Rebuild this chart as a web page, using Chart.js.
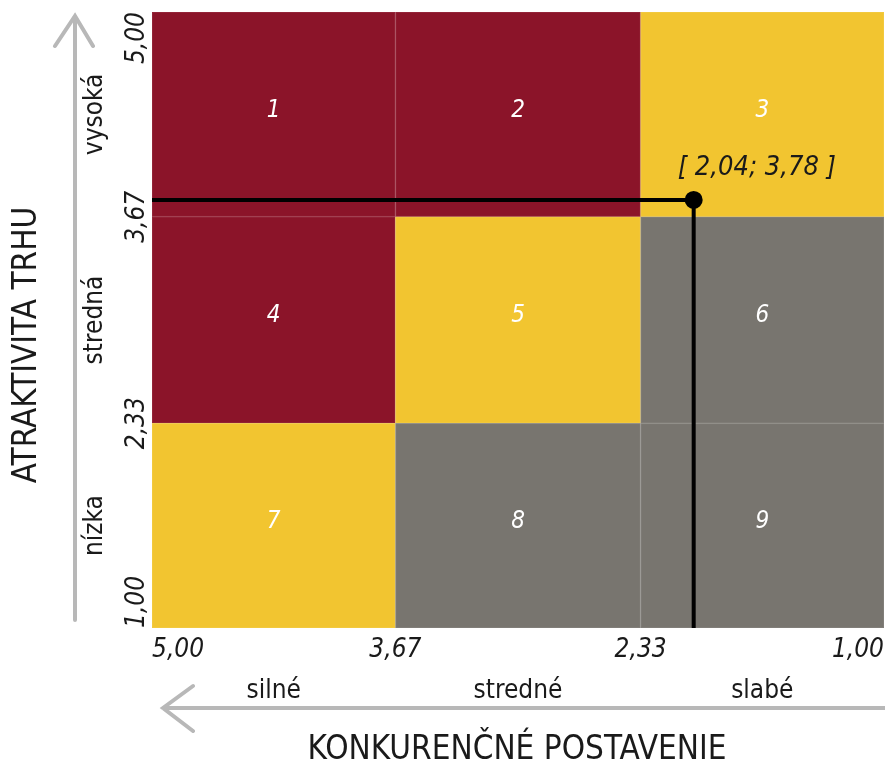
<!DOCTYPE html>
<html>
<head>
<meta charset="utf-8">
<script src="https://cdn.jsdelivr.net/npm/chart.js@4"></script>
<style>
  body { margin: 0; background: #fff; }
</style>
</head>
<body>
<canvas id="matrix" width="885" height="765"></canvas>
<script>
// grid boundaries - x runs from 5 (left) to 1 (right), y from 1 (bottom) to 5 (top)
const xEdges = [5, 3.67, 2.33, 1];
const yEdges = [5, 3.67, 2.33, 1];
const xTicks = [5, 3.67, 2.33, 1];
const yTicks = [5, 3.67, 2.33, 1];
const xZones = ["silné", "stredné", "slabé"];
const yZones = ["vysoká", "stredná", "nízka"];
const cellNumbers = ["1", "2", "3", "4", "5", "6", "7", "8", "9"];
const cellZone = [0, 0, 1, 0, 1, 2, 1, 2, 2];
// position of the company + guide lines to the axes
const guideX = [5, 2.04, 2.04];
const guideY = [3.78, 3.78, 1];
const positionValue = [2.04, 3.78];

const zoneColors = ["#8b1429", "#f2c530", "#78756f"];
const FONT = "'DejaVu Sans Condensed', 'Liberation Sans Narrow', sans-serif";
const GREY = "#b8b8b8";

function fmt(v) {
  return v.toFixed(2).replace(".", ",");
}

const cellsPlugin = {
  id: "cells",
  beforeDatasetsDraw(chart) {
    const { ctx } = chart;
    const x = chart.scales.x, y = chart.scales.y;
    ctx.save();
    for (let r = 0; r < 3; r++) {
      for (let c = 0; c < 3; c++) {
        const i = r * 3 + c;
        const x0 = x.getPixelForValue(xEdges[c]), x1 = x.getPixelForValue(xEdges[c + 1]);
        const y0 = y.getPixelForValue(yEdges[r]), y1 = y.getPixelForValue(yEdges[r + 1]);
        ctx.fillStyle = zoneColors[cellZone[i]];
        ctx.fillRect(x0, y0, x1 - x0, y1 - y0);
        ctx.strokeStyle = "rgba(255,255,255,0.07)";
        ctx.lineWidth = 1;
        ctx.strokeRect(x0 + 0.5, y0 + 0.5, x1 - x0 - 1, y1 - y0 - 1);
        ctx.fillStyle = "#fff";
        ctx.font = "italic 24px " + FONT;
        ctx.textAlign = "center";
        ctx.textBaseline = "middle";
        ctx.fillText(cellNumbers[i], (x0 + x1) / 2, (y0 + y1) / 2 - 4);
      }
    }
    ctx.restore();
  }
};

const labelsPlugin = {
  id: "labels",
  afterDraw(chart) {
    const { ctx } = chart;
    const x = chart.scales.x, y = chart.scales.y;
    ctx.save();

    // x tick values
    ctx.fillStyle = "#1a1a1a";
    ctx.font = "italic 26px " + FONT;
    ctx.textBaseline = "middle";
    xTicks.forEach((v, i) => {
      ctx.textAlign = i === 0 ? "left" : i === xTicks.length - 1 ? "right" : "center";
      ctx.fillText(fmt(v), x.getPixelForValue(v), 650);
    });

    // y tick values (rotated)
    yTicks.forEach((v, i) => {
      ctx.save();
      ctx.translate(137, y.getPixelForValue(v));
      ctx.rotate(-Math.PI / 2);
      ctx.textAlign = i === 0 ? "right" : i === yTicks.length - 1 ? "left" : "center";
      ctx.fillText(fmt(v), 0, 0);
      ctx.restore();
    });

    // zone names
    ctx.font = "26px " + FONT;
    yZones.forEach((t, i) => {
      const mid = (y.getPixelForValue(yEdges[i]) + y.getPixelForValue(yEdges[i + 1])) / 2;
      ctx.save();
      ctx.translate(95, mid);
      ctx.rotate(-Math.PI / 2);
      ctx.textAlign = "center";
      ctx.fillText(t, 0, 0);
      ctx.restore();
    });
    ctx.textAlign = "center";
    xZones.forEach((t, i) => {
      const mid = (x.getPixelForValue(xEdges[i]) + x.getPixelForValue(xEdges[i + 1])) / 2;
      ctx.fillText(t, mid, 691);
    });

    // axis titles
    ctx.font = "33px " + FONT;
    ctx.fillText("KONKURENČNÉ POSTAVENIE", 517, 750);
    ctx.save();
    ctx.translate(27, 345);
    ctx.rotate(-Math.PI / 2);
    ctx.fillText("ATRAKTIVITA TRHU", 0, 0);
    ctx.restore();

    // grey arrows
    ctx.strokeStyle = GREY;
    ctx.lineWidth = 4;
    ctx.lineCap = "round";
    ctx.beginPath();
    ctx.moveTo(75, 620);
    ctx.lineTo(75, 16);
    ctx.moveTo(55, 46);
    ctx.lineTo(75, 16);
    ctx.lineTo(93, 46);
    ctx.moveTo(885, 708);
    ctx.lineTo(163, 708);
    ctx.moveTo(193, 686);
    ctx.lineTo(163, 708);
    ctx.lineTo(193, 731);
    ctx.stroke();

    // position label
    const px = x.getPixelForValue(positionValue[0]);
    const py = y.getPixelForValue(positionValue[1]);
    ctx.fillStyle = "#1a1a1a";
    ctx.font = "italic 27px " + FONT;
    ctx.textAlign = "left";
    ctx.textBaseline = "alphabetic";
    ctx.fillText("[ " + fmt(positionValue[0]) + "; " + fmt(positionValue[1]) + " ]", px - 16, py - 25);

    ctx.restore();
  }
};

new Chart(document.getElementById("matrix"), {
  type: "scatter",
  data: {
    datasets: [{
      data: guideX.map((v, i) => ({ x: v, y: guideY[i] })),
      showLine: true,
      borderColor: "#000",
      backgroundColor: "#000",
      borderWidth: 4,
      pointRadius: [0, 7, 0],
      pointHoverRadius: 0,
      clip: false
    }]
  },
  options: {
    responsive: false,
    animation: false,
    layout: { padding: { left: 152, right: 1, top: 12, bottom: 137 } },
    scales: {
      x: { type: "linear", min: 1, max: 5, reverse: true, display: false },
      y: { type: "linear", min: 1, max: 5, display: false }
    },
    plugins: {
      legend: { display: false },
      tooltip: { enabled: false }
    }
  },
  plugins: [cellsPlugin, labelsPlugin]
});
</script>
</body>
</html>
